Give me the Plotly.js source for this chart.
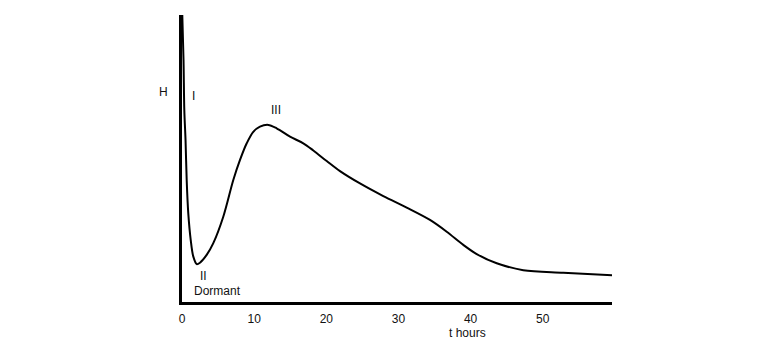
<!DOCTYPE html>
<html>
<head>
<meta charset="utf-8">
<script src="https://cdn.plot.ly/plotly-3.0.1.min.js"></script>
<style>
html,body{margin:0;padding:0;background:#fff;}
#chart{width:782px;height:353px;}
</style>
</head>
<body>
<div id="chart"></div>
<script>
// Time in hours
const tHours = [0.04, 0.21, 0.32, 0.49, 0.65, 0.87, 1.21, 1.57, 2.04, 2.49, 3.42, 4.34, 5.72, 7.11, 8.04, 8.97, 9.88, 10.81, 11.96, 13.12, 14.97, 16.81, 18.2, 20.06, 21.9, 24.67, 27.9, 31.14, 34.37, 36.69, 38.99, 40.85, 43.62, 47.3, 52.85, 59.78];
// Heat evolution H (relative units)
const heat = [100, 84.3, 66.9, 56.4, 42.5, 30.9, 21.6, 15.8, 13.2, 13.7, 16.4, 20.5, 29.7, 42.5, 49.5, 55.3, 59.3, 61.1, 61.7, 60.5, 57.6, 55.3, 52.8, 49.1, 45.6, 41.3, 36.9, 32.9, 28.6, 24.5, 19.9, 16.7, 13.5, 11.1, 10.2, 9.3];
const xTicks = [0, 10, 20, 30, 40, 50];
const xTickText = ['0', '10', '20', '30', '40', '50'];

const trace = {
  x: tHours,
  y: heat,
  type: 'scatter',
  mode: 'lines',
  line: {color: '#000', width: 2, shape: 'spline', smoothing: 0.9},
  hoverinfo: 'skip'
};

const font = {family: 'Liberation Sans, Arial, sans-serif', size: 12, color: '#111'};

function label(text, x, y) {
  return {text: text, xref: 'paper', yref: 'paper', x: x, y: y,
          xanchor: 'center', yanchor: 'middle', showarrow: false, font: font};
}

const layout = {
  width: 782, height: 353,
  margin: {l: 182, r: 170, t: 15, b: 51},
  paper_bgcolor: '#fff', plot_bgcolor: '#fff',
  showlegend: false,
  font: font,
  xaxis: {
    range: [0, 59.6], showgrid: false, zeroline: false,
    showline: true, linecolor: '#000', linewidth: 3,
    tickmode: 'array', tickvals: xTicks, ticktext: xTickText,
    ticks: '', ticklen: 0, tickfont: font, ticklabelstandoff: 4
  },
  yaxis: {
    range: [0, 100], showgrid: false, zeroline: false,
    showline: true, linecolor: '#000', linewidth: 3,
    showticklabels: false, ticks: ''
  },
  annotations: [
    label('H', -0.044, 0.732),
    label('I', 0.0256, 0.718),
    label('III', 0.219, 0.669),
    label('II', 0.049, 0.0906),
    label('Dormant', 0.0837, 0.038),
    label('t hours', 0.663, -0.108)
  ]
};

Plotly.newPlot('chart', [trace], layout, {staticPlot: true, displayModeBar: false});
</script>
</body>
</html>
